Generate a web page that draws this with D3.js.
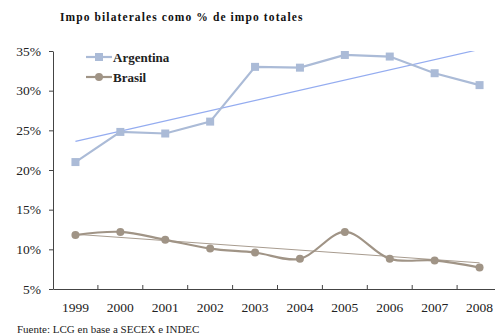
<!DOCTYPE html>
<html lang="es">
<head>
<meta charset="UTF-8">
<title>Impo bilaterales</title>
<script src="https://d3js.org/d3.v7.min.js"></script>
<style>
    body { margin: 0; background: #fff; }
    svg { display: block; }
    svg text { font-family: "Liberation Serif", "DejaVu Serif", serif; }
</style>
</head>
<body>
<svg></svg>
<script>
    const years = ["1999", "2000", "2001", "2002", "2003", "2004", "2005", "2006", "2007", "2008"];
    const argentina = [21.0, 24.8, 24.6, 26.1, 33.0, 32.9, 34.5, 34.3, 32.2, 30.7];
    const brasil = [11.8, 12.2, 11.2, 10.1, 9.6, 8.8, 12.2, 8.8, 8.6, 7.7];
    const trendArgentina = [23.6, 35.2];
    const trendBrasil = [11.9, 8.3];
    const yTicks = [5, 10, 15, 20, 25, 30, 35];

    const width = 495, height = 335;
    const margin = { top: 51, right: -7, bottom: 46, left: 53 };
    const serif = "'Liberation Serif', serif";

    const svg = d3.select("svg").attr("width", width).attr("height", height);

    const x = d3.scaleBand().domain(years).range([margin.left, width - margin.right]);
    const y = d3.scaleLinear().domain([5, 35]).range([height - margin.bottom, margin.top]);
    const cx = d => x(d) + x.bandwidth() / 2;

    svg.append("defs").append("clipPath").attr("id", "plot")
        .append("rect").attr("x", margin.left).attr("y", margin.top)
        .attr("width", width - margin.left).attr("height", y(5) - margin.top);

    // title
    svg.append("text").attr("x", 60).attr("y", 21)
        .style("font-family", serif)
        .attr("font-size", 11.5).attr("font-weight", "bold").attr("letter-spacing", 1.1)
        .attr("fill", "#111")
        .text("Impo bilaterales como % de impo totales");

    // y axis
    const yAxis = svg.append("g").attr("transform", `translate(${margin.left},0)`)
        .call(d3.axisLeft(y).tickValues(yTicks).tickFormat(d => d + "%").tickSize(4).tickSizeOuter(0));
    yAxis.select(".domain").attr("stroke", "#444");
    yAxis.selectAll(".tick line").attr("stroke", "#444");
    yAxis.selectAll("text").attr("font-size", 13.5).attr("fill", "#222")
        .style("font-family", serif).attr("x", -12);

    // x axis
    const xAxis = svg.append("g").attr("transform", `translate(0,${y(5)})`)
        .call(d3.axisBottom(x).tickSize(0).tickSizeOuter(0));
    xAxis.select(".domain").attr("stroke", "#444");
    xAxis.selectAll("text").attr("font-size", 13.5).attr("fill", "#222")
        .style("font-family", serif).attr("y", 23).attr("dy", 0);
    xAxis.selectAll(".sep").data(years.slice(1)).enter().append("line")
        .attr("x1", d => x(d)).attr("x2", d => x(d)).attr("y1", 0).attr("y2", -4)
        .attr("stroke", "#444");

    const plot = svg.append("g").attr("clip-path", "url(#plot)");

    // trend lines
    const ends = [years[0], years[years.length - 1]];
    const trend = d3.line().x((d, i) => cx(ends[i])).y(d => y(d));
    plot.append("path").datum(trendArgentina).attr("d", trend)
        .attr("fill", "none").attr("stroke", "#94acf0").attr("stroke-width", 1.2);
    plot.append("path").datum(trendBrasil).attr("d", trend)
        .attr("fill", "none").attr("stroke", "#a89c8f").attr("stroke-width", 1);

    // Argentina
    const lineA = d3.line().x((d, i) => cx(years[i])).y(d => y(d));
    plot.append("path").datum(argentina).attr("d", lineA)
        .attr("fill", "none").attr("stroke", "#abbbd7").attr("stroke-width", 2.2);
    plot.selectAll(".sq").data(argentina).enter().append("rect")
        .attr("x", (d, i) => cx(years[i]) - 4).attr("y", d => y(d) - 4)
        .attr("width", 8).attr("height", 8).attr("fill", "#abbbd7");

    // Brasil
    const lineB = d3.line().x((d, i) => cx(years[i])).y(d => y(d)).curve(d3.curveCatmullRom.alpha(0.5));
    plot.append("path").datum(brasil).attr("d", lineB)
        .attr("fill", "none").attr("stroke", "#a09486").attr("stroke-width", 2.2);
    plot.selectAll(".dot").data(brasil).enter().append("circle")
        .attr("cx", (d, i) => cx(years[i])).attr("cy", d => y(d)).attr("r", 4)
        .attr("fill", "#a09486");

    // legend
    const legend = svg.append("g").attr("transform", "translate(86,57)");
    const la = legend.append("g");
    la.append("line").attr("x1", 0).attr("x2", 26).attr("stroke", "#abbbd7").attr("stroke-width", 2.2);
    la.append("rect").attr("x", 9).attr("y", -4).attr("width", 8).attr("height", 8).attr("fill", "#abbbd7");
    la.append("text").attr("x", 27).attr("y", 4.5).attr("font-size", 13).attr("font-weight", "bold")
        .style("font-family", serif).attr("fill", "#222").text("Argentina");
    const lb = legend.append("g").attr("transform", "translate(0,20)");
    lb.append("line").attr("x1", 0).attr("x2", 26).attr("stroke", "#a09486").attr("stroke-width", 2.2);
    lb.append("circle").attr("cx", 13).attr("r", 4).attr("fill", "#a09486");
    lb.append("text").attr("x", 27).attr("y", 4.5).attr("font-size", 13).attr("font-weight", "bold")
        .style("font-family", serif).attr("fill", "#222").text("Brasil");

    // source
    svg.append("text").attr("x", 17).attr("y", 333).attr("font-size", 11)
        .style("font-family", serif).attr("fill", "#222")
        .text("Fuente: LCG en base a SECEX e INDEC");
</script>
</body>
</html>
